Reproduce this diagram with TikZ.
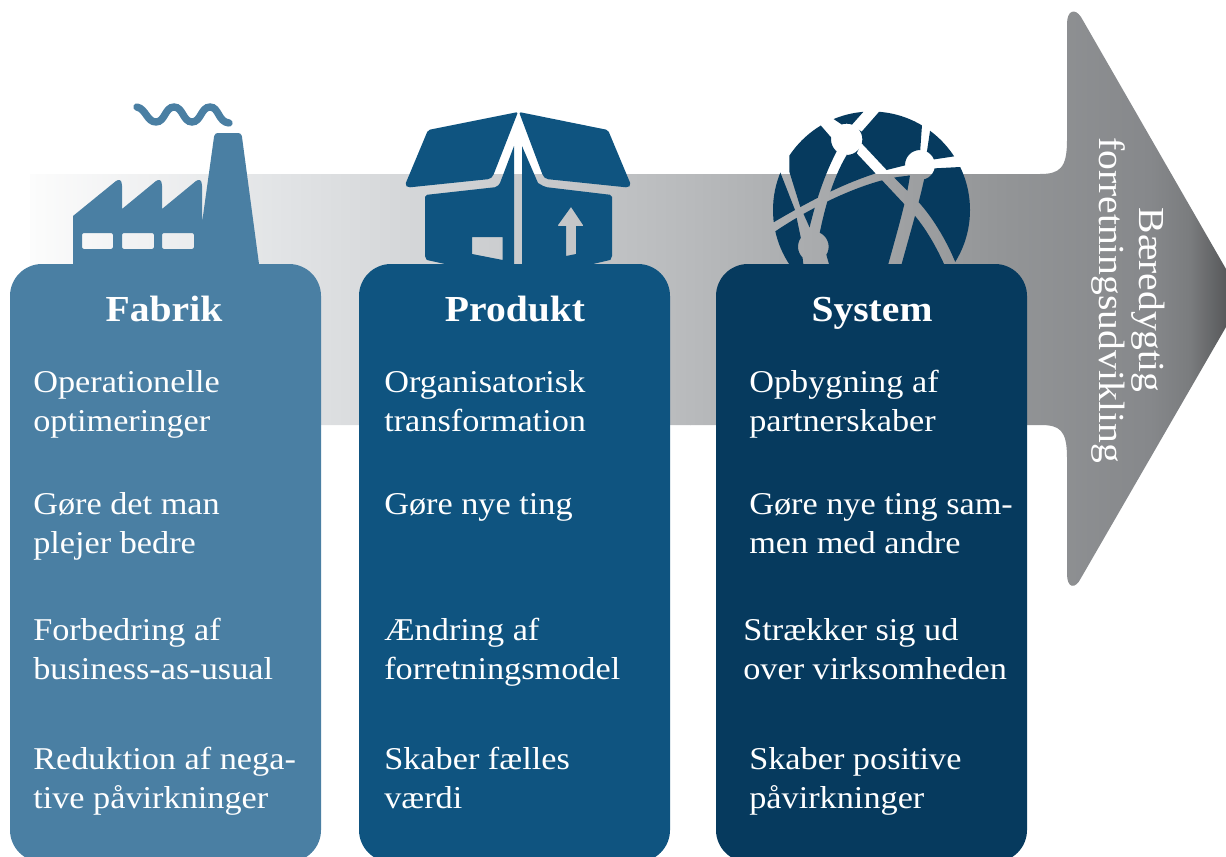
\documentclass[tikz,border=0pt]{standalone}
\usepackage{fontspec}
\setmainfont[FakeStretch=1.08]{Liberation Serif}
\definecolor{cfab}{HTML}{4A7FA3}
\definecolor{cpro}{HTML}{0F5480}
\definecolor{csys}{HTML}{063A5E}
\definecolor{g0}{RGB}{252,252,252}
\definecolor{g1}{RGB}{226,228,230}
\definecolor{g2}{RGB}{184,186,188}
\definecolor{g3}{RGB}{147,149,151}
\definecolor{g4}{RGB}{134,136,139}
\definecolor{g5}{RGB}{122,124,126}
\definecolor{g6}{RGB}{88,89,91}
\tikzset{
  x=0.75pt,y=-0.75pt,
  cardbox/.style={rounded corners=24pt},
  body/.style={anchor=base west,inner sep=0pt,align=left,font=\fontsize{23.8}{29.25}\selectfont,text=white},
  headline/.style={anchor=base,inner sep=0pt,font=\fontsize{27.5}{32}\selectfont\bfseries,text=white},
  sidelabel/.style={inner sep=0pt,align=center,rotate=-90,font=\fontsize{27.5}{30}\selectfont,text=white},
}
\newcommand{\knock}[1]{\pgfseteorule\clip (-400,-400) rectangle (1200,1000) #1;}
\begin{document}
\begin{tikzpicture}
\useasboundingbox (0,0) rectangle (1226,856);
% big arrow
\begin{scope}
\clip (30,174) -- (1040,174) .. controls (1060,174) and (1067,168) .. (1067,140) -- (1067,24) .. controls (1067,10) and (1075,8) .. (1081,17) -- (1226,269) -- (1226,327) -- (1081,578) .. controls (1075,590) and (1067,588) .. (1067,574) -- (1067,458) .. controls (1067,430) and (1060,425) .. (1040,425) -- (30,425) -- cycle;
\shade[left color=g0,right color=g1] (30,0) rectangle (276.5,600);
\shade[left color=g1,right color=g2] (276,0) rectangle (690.5,600);
\shade[left color=g2,right color=g3] (690,0) rectangle (1000.5,600);
\shade[left color=g3,right color=g4] (1000,0) rectangle (1150.5,600);
\shade[left color=g4,right color=g5] (1150,0) rectangle (1190.5,600);
\shade[left color=g5,right color=g6] (1190,0) rectangle (1226,600);
\end{scope}
% factory
\fill[cfab,even odd rule] (73,268) -- (73,216) -- (116,181) [rounded corners=2pt] -- (120,179) -- (122,183) [sharp corners] -- (122,209) -- (156,181) [rounded corners=2pt] -- (160,179) -- (162,183) [sharp corners] -- (162,209) -- (196,181) [rounded corners=2pt] -- (200,179) -- (202,183) [sharp corners] -- (202,223) -- (214,137) [rounded corners=2pt] -- (215,133) -- (241,133) [sharp corners] -- (242,137) -- (259,264) -- (259,268) -- cycle
 [rounded corners=1.5pt] (82,233) rectangle (113,249) (122,233) rectangle (154,249) (162,233) rectangle (194,249);
\draw[cfab,line width=5.5pt,line cap=round] (137,107) .. controls (146,109) and (147,122) .. (156,122) .. controls (165,122) and (165,107) .. (174,107) .. controls (183,107) and (183,122) .. (192,122) .. controls (201,122) and (201,107) .. (210,107) .. controls (219,107) and (218,122) .. (229,123);
% box
\fill[cpro,rounded corners=1.5pt] (518,112) -- (428,130) -- (405,185) -- (408,187.5) -- (490,179) -- (493,176) -- cycle;
\fill[cpro,rounded corners=1.5pt] (519,112) -- (608,130) -- (631,185) -- (628,187.5) -- (546,179) -- (543,176) -- cycle;
\fill[cpro,even odd rule] (514,146) -- (514,268) -- (445,268) -- (445,264) -- (427,260) [rounded corners=1.5pt] -- (425,258) -- (425,195) -- (497,187) [sharp corners] -- (500,183) -- cycle
 (472,237) -- (502.7,237) -- (502.7,260) -- (472,254) -- cycle;
\fill[cpro,even odd rule] (522,146) -- (522,268) -- (593,268) -- (593,264) -- (610,260) [rounded corners=1.5pt] -- (612,258) -- (612,195) -- (545,187) [sharp corners] -- (538,183) -- cycle
 (571,207) -- (583,225) -- (583,226) -- (576,226) -- (576,254) -- (566,256) -- (566,226) -- (558,226) -- (558,225) -- cycle;
% globe
\begin{scope}[shift={(750,100)},x=0.25pt,y=-0.25pt]
  \knock{(290,118) circle [radius=47]}
  \knock{(510,195) circle [radius=45]}
  \knock{(190,440) circle [radius=46]}
  \knock{(345,30) -- (392,30) -- (335,95) -- (305,75) -- cycle}
  \knock{(205,68) -- (240,50) -- (300,90) -- (250,120) -- cycle}
  \knock{(262,150) .. controls (215,240) and (190,330) .. (170,420) -- (205,420) .. controls (220,340) and (245,240) .. (290,165) -- cycle}
  \knock{(40,385) .. controls (150,320) and (270,250) .. (410,210) -- (470,195) -- (540,180) -- (640,165) -- (650,200) -- (555,205) -- (470,228) .. controls (360,235) and (180,320) .. (60,405) -- cycle}
  \knock{(320,160) -- (335,130) -- (410,210) -- (495,295) .. controls (550,350) and (600,440) .. (625,510) -- (590,510) .. controls (560,440) and (520,370) .. (470,320) -- cycle}
  \knock{(480,225) -- (525,225) .. controls (510,300) and (480,400) .. (450,510) -- (410,510) .. controls (440,400) and (470,300) .. (480,225) -- cycle}
  \knock{(510,160) -- (517,60) -- (545,60) -- (530,160) -- cycle}
  \knock{(75,190) -- (118,165) -- (118,215) -- (150,318) -- (180,385) -- (200,430) -- (160,450) -- (135,330) -- (90,215) -- cycle}
  \knock{(155,450) -- (225,450) -- (242,510) -- (162,510) -- cycle}
  \fill[csys] (364.5,330) circle [radius=295.5];
\end{scope}
% cards
\fill[cfab,cardbox] (10,264) rectangle (321,862);
\fill[cpro,cardbox] (359,264) rectangle (670,862);
\fill[csys,cardbox] (716,264) rectangle (1027,862);
% text
\node[headline] (t1) at (164,321) {Fabrik};
\node[headline] (t2) at (515,321) {Produkt};
\node[headline] (t3) at (872,321) {System};
\node[body] (a1) at (33,431) {Operationelle\\optimeringer};
\node[body] (a2) at (33,553) {Gøre det man\\plejer bedre};
\node[body] (a3) at (33,679) {Forbedring af\\business-as-usual};
\node[body] (a4) at (33,808) {Reduktion af nega-\\tive påvirkninger};
\node[body] (b1) at (384,431) {Organisatorisk\\transformation};
\node[body] (b2) at (384,514) {Gøre nye ting};
\node[body] (b3) at (384,679) {Ændring af\\forretningsmodel};
\node[body] (b4) at (384,808) {Skaber fælles\\værdi};
\node[body] (c1) at (749,431) {Opbygning af\\partnerskaber};
\node[body] (c2) at (749,553) {Gøre nye ting sam-\\men med andre};
\node[body] (c3) at (743,679) {Strækker sig ud\\over virksomheden};
\node[body] (c4) at (749,808) {Skaber positive\\påvirkninger};
\node[sidelabel] (s) at (1128,300) {Bæredygtig\\forretningsudvikling};
\end{tikzpicture}
\end{document}
